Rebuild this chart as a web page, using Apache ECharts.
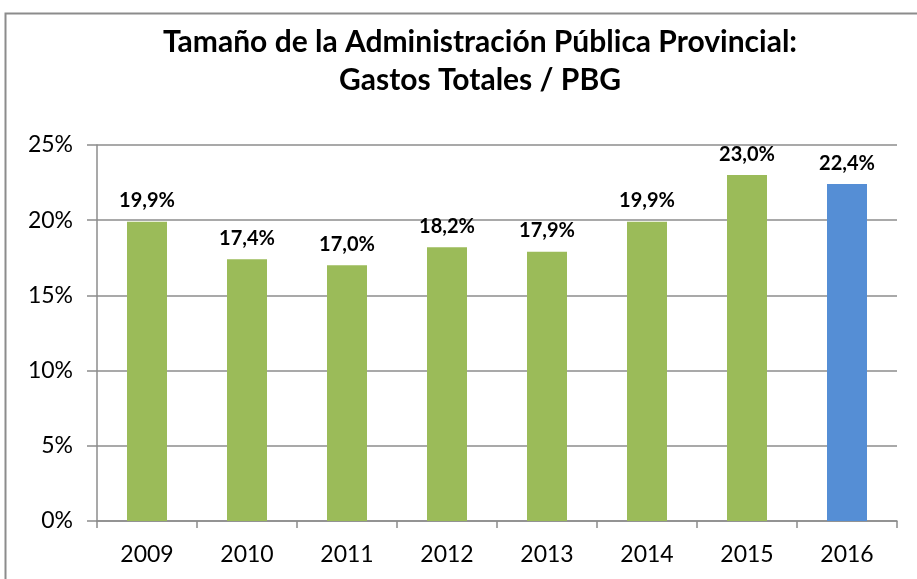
<!DOCTYPE html>
<html>
<head>
<meta charset="utf-8">
<script src="https://cdn.jsdelivr.net/npm/echarts@6/dist/echarts.min.js"></script>
<style>
  html, body { margin: 0; padding: 0; background: #fff; }
  #chart { width: 917px; height: 579px; }
</style>
</head>
<body>
<div id="chart"></div>
<script>
// datos
var years = ['2009', '2010', '2011', '2012', '2013', '2014', '2015', '2016'];
var gastosPBG = [19.9, 17.4, 17.0, 18.2, 17.9, 19.9, 23.0, 22.4];
var yTicks = [0, 5, 10, 15, 20, 25];

var verde = '#9BBB59', azul = '#558ED5';
var fuente = 'Lato, "Open Sans", sans-serif';

var barras = [];
for (var i = 0; i < years.length; i++) {
    barras.push({
        value: gastosPBG[i],
        itemStyle: { color: i === years.length - 1 ? azul : verde }   // el último año en azul
    });
}

var myChart = echarts.init(document.getElementById('chart'));
var option = {
    animation: false,
    graphic: [{
        type: 'rect',
        shape: { x: 5.5, y: 13.5, width: 1000, height: 1000 },
        style: { fill: 'none', stroke: '#8c8c8c', lineWidth: 2 },
        silent: true
    }, {
        // título centrado sobre el marco (que sigue fuera de la imagen)
        type: 'text',
        x: 480,
        y: 23,
        style: {
            text: 'Tamaño de la Administración Pública Provincial:\nGastos Totales / PBG',
            align: 'center',
            verticalAlign: 'top',
            fontFamily: fuente,
            fontSize: 30,
            fontWeight: 'bold',
            lineHeight: 38,
            fill: '#000'
        }
    }],
    grid: { left: 97, right: 20, top: 145, bottom: 58 },
    xAxis: {
        type: 'category',
        data: years,
        axisLine: { lineStyle: { color: '#8c8c8c', width: 1.5 } },
        axisTick: { show: true, alignWithLabel: false, length: 7, lineStyle: { color: '#8c8c8c', width: 1.5 } },
        axisLabel: { fontFamily: fuente, fontSize: 23, color: '#000', margin: 22 }
    },
    yAxis: {
        type: 'value',
        min: yTicks[0],
        max: yTicks[yTicks.length - 1],
        interval: 5,
        axisLine: { show: true, lineStyle: { color: '#8c8c8c', width: 1.5 } },
        axisTick: { show: true, length: 10, lineStyle: { color: '#8c8c8c', width: 1.5 } },
        splitLine: { lineStyle: { color: '#8c8c8c', width: 1.5 } },
        axisLabel: {
            fontFamily: fuente, fontSize: 23, color: '#000', margin: 24,
            formatter: function (v) { return v + '%'; }
        }
    },
    series: [{
        type: 'bar',
        data: barras,
        barWidth: '40%',
        label: {
            show: true,
            position: 'top',
            distance: 11,
            fontFamily: fuente,
            fontSize: 20,
            fontWeight: 'bold',
            color: '#000',
            formatter: function (p) { return p.value.toFixed(1).replace('.', ',') + '%'; }
        }
    }]
};
myChart.setOption(option);
</script>
</body>
</html>
